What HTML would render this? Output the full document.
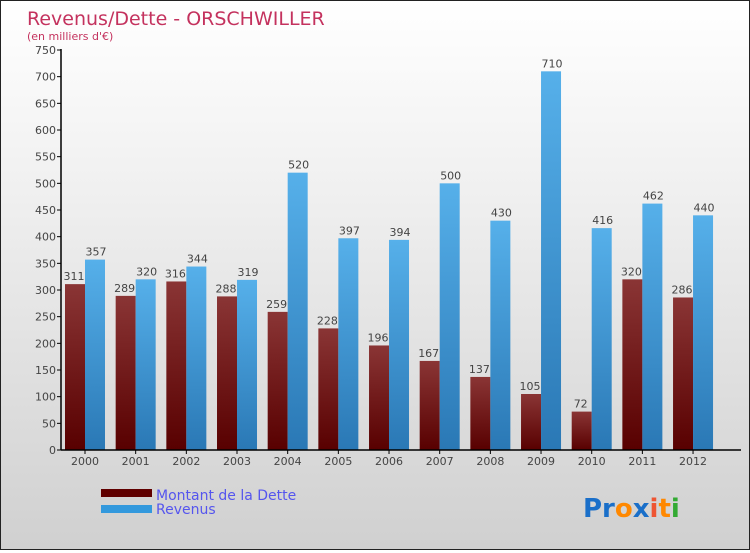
<!DOCTYPE html>
<html><head><meta charset="utf-8"><style>
body{margin:0;width:750px;height:550px;overflow:hidden;font-family:"DejaVu Sans","Liberation Sans",sans-serif}
#wrap{position:relative;width:748px;height:548px;border:1px solid #222;background:linear-gradient(#ffffff,#f2f2f2 30%,#d0d0d0)}
</style></head><body>
<div id="wrap">
<svg width="748" height="548">
<defs>
<linearGradient id="gr" x1="0" y1="0" x2="0" y2="1"><stop offset="0" stop-color="#8a3535"/><stop offset="1" stop-color="#580000"/></linearGradient>
<linearGradient id="gb" x1="0" y1="0" x2="0" y2="1"><stop offset="0" stop-color="#56b0ea"/><stop offset="1" stop-color="#2a78b5"/></linearGradient>
</defs>
<text x="26" y="24" font-size="19" fill="#c4325e">Revenus/Dette - ORSCHWILLER</text>
<text x="26" y="39" font-size="11" fill="#c4325e">(en milliers d'€)</text>
<g id="g"></g>
<text x="155" y="499" font-size="14" fill="#5555ee">Montant de la Dette</text>
<text x="155" y="513" font-size="14" fill="#5555ee">Revenus</text>
<rect x="100" y="488" width="51" height="8" fill="#600000"/>
<rect x="100" y="504" width="51" height="8" fill="#3399dd"/>
<text x="582" y="516" font-size="26" font-weight="bold"><tspan fill="#1a6fc9">Pr</tspan><tspan fill="#ff8800">o</tspan><tspan fill="#1a6fc9">x</tspan><tspan fill="#e53">i</tspan><tspan fill="#ff8800">t</tspan><tspan fill="#33aa33">i</tspan></text>
</svg></div>
<script>
const years=["2000","2001","2002","2003","2004","2005","2006","2007","2008","2009","2010","2011","2012"];
const dette=[311,289,316,288,259,228,196,167,137,105,72,320,286];
const revenus=[357,320,344,319,520,397,394,500,430,710,416,462,440];
const yTicks=[0,50,100,150,200,250,300,350,400,450,500,550,600,650,700,750];
const NS="http://www.w3.org/2000/svg";
const g=document.getElementById('g');
const y=v=>449-v*400/750;
const x=i=>64+i*50.67;
function el(t,a,txt){const e=document.createElementNS(NS,t);for(const k in a)e.setAttribute(k,a[k]);if(txt!=null)e.textContent=txt;g.appendChild(e);return e;}
yTicks.forEach(v=>{
 const l=el('line',{x1:56,x2:60,y1:y(v),y2:y(v),stroke:'#000'});
 
 
 const t=el('text',{x:55,y:y(v)+4,'text-anchor':'end','font-size':11,fill:'#444'},v);
 
 
});
years.forEach((yr,i)=>{
 const b1=el('rect',{x:x(i),y:y(dette[i]),width:20,height:y(0)-y(dette[i]),fill:'url(#gr)'});
 
 
 const b2=el('rect',{x:x(i)+20,y:y(revenus[i]),width:20,height:y(0)-y(revenus[i]),fill:'url(#gb)'});
 
 
 const t1=el('text',{x:x(i)+9,y:y(dette[i])-4,'text-anchor':'middle','font-size':11,fill:'#444'},dette[i]);
 
 
 const t2=el('text',{x:x(i)+31,y:y(revenus[i])-4,'text-anchor':'middle','font-size':11,fill:'#444'},revenus[i]);
 
 
 const tk=el('line',{x1:x(i)+20,x2:x(i)+20,y1:y(0),y2:y(0)+4,stroke:'#000'});
 
 
 const xl=el('text',{x:x(i)+20,y:y(0)+15,'text-anchor':'middle','font-size':11,fill:'#444'},yr);
 
 
});
const ax=el('line',{x1:60,x2:60,y1:y(750)-1,y2:y(0),stroke:'#000','stroke-width':1.5});


const bx=el('line',{x1:60,x2:740,y1:y(0),y2:y(0),stroke:'#000','stroke-width':1.5});


</script>
</body></html>
